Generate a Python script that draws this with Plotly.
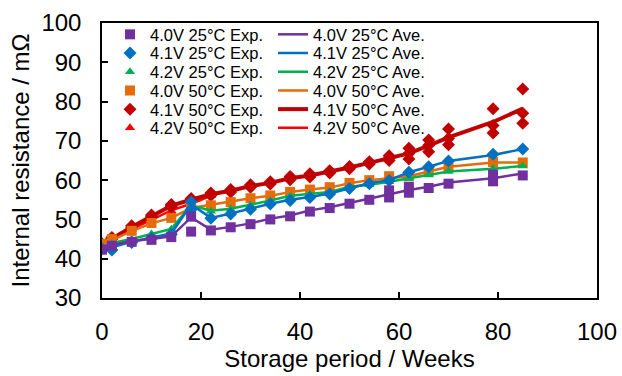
import plotly.graph_objects as go

weeks = [0, 2, 6, 10, 14, 18, 22, 26, 30, 34, 38, 42, 46, 50, 54, 58, 62, 66, 70, 79, 85]

# Average curves (mOhm)
ave_40_25 = [42.6, 43.5, 44.5, 45.0, 45.7, 50.5, 47.4, 48.1, 49.0, 50.2, 51.0, 52.3, 53.1, 54.2, 55.3, 56.4, 57.5, 58.3, 59.4, 60.5, 61.7]
ave_41_25 = [42.7, 42.9, 44.3, 45.4, 46.4, 53.8, 50.4, 51.5, 52.7, 54.0, 55.0, 55.7, 56.6, 57.9, 59.2, 60.0, 62.0, 63.4, 64.9, 66.4, 67.9]
ave_42_25 = [42.8, 44.0, 45.0, 46.3, 47.6, 53.6, 52.2, 52.7, 53.7, 54.8, 56.0, 56.5, 57.0, 58.3, 58.8, 59.6, 60.5, 61.3, 62.2, 62.9, 63.6]
ave_40_50 = [43.6, 44.8, 47.0, 49.0, 50.4, 52.9, 53.7, 54.5, 55.4, 56.0, 57.0, 57.6, 58.1, 59.2, 60.0, 60.5, 61.0, 62.2, 63.4, 64.5, 64.5]
ave_41_50 = [43.6, 45.2, 48.1, 50.8, 53.5, 55.0, 56.4, 57.3, 58.5, 59.3, 60.5, 61.2, 62.1, 63.2, 64.4, 65.6, 66.8, 68.8, 70.9, 74.8, 78.2]
weeks_42_50 = [0, 2, 6, 10, 14, 18, 22]
ave_42_50 = [43.5, 45.0, 47.5, 49.8, 52.3, 54.0, 56.0]

# Experimental points (several cells per storage time)
exp_40_25_w = weeks + [18, 58, 62, 79]
exp_40_25_v = [42.3, 43.3, 44.3, 44.8, 45.5, 46.9, 47.2, 48.0, 48.8, 50.0, 50.8, 52.0, 52.9, 54.0, 55.0, 55.6, 56.8, 58.0, 59.1, 59.7, 61.2] + [50.7, 57.4, 58.3, 61.4]
exp_41_25_w = weeks + [18]
exp_41_25_v = [42.5, 42.2, 44.1, 45.2, 46.2, 54.5, 50.3, 51.4, 52.6, 53.9, 54.8, 55.6, 56.5, 57.9, 59.1, 59.9, 62.0, 63.4, 64.9, 66.6, 67.9] + [52.5]
exp_42_25_w = weeks
exp_42_25_v = [42.6, 43.8, 44.9, 46.3, 47.5, 53.5, 52.1, 52.6, 53.6, 54.7, 55.9, 56.4, 57.0, 58.2, 58.8, 59.6, 60.4, 61.3, 62.2, 62.9, 63.6]
exp_40_50_w = weeks
exp_40_50_v = [43.8, 45.0, 47.1, 49.1, 50.4, 53.0, 53.6, 54.4, 55.4, 56.1, 57.0, 57.6, 58.2, 59.3, 60.0, 61.0, 61.0, 62.2, 63.4, 64.6, 64.5]
exp_41_50_a = [43.8, 45.4, 48.4, 51.1, 53.8, 55.3, 56.7, 57.6, 58.8, 59.6, 60.9, 61.6, 62.4, 63.5, 64.7, 66.2, 68.1, 70.2, 73.0, 78.2, 83.2]
exp_41_50_b = [43.6, 45.2, 48.1, 50.8, 53.5, 55.0, 56.4, 57.3, 58.5, 59.3, 60.5, 61.2, 62.1, 63.2, 64.4, 65.6, 66.8, 68.9, 70.6, 73.9, 77.0]
exp_41_50_c = [43.4, 45.0, 47.8, 50.5, 53.2, 54.7, 56.1, 57.0, 58.2, 59.0, 60.1, 60.8, 61.8, 62.9, 64.1, 65.0, 65.4, 67.2, 69.0, 72.0, 74.5]
exp_42_50_v = [43.4, 44.9, 47.4, 49.7, 52.2, 53.9, 56.0]

x_ticks = [0, 20, 40, 60, 80, 100]
y_ticks = [30, 40, 50, 60, 70, 80, 90, 100]

FONT = "Liberation Sans, Arial, sans-serif"

series = [
    # label, exp_w, exp_v, ave_w, ave_v, color, symbol, msize, lwidth, legend row
    ("4.2V 50°C", weeks_42_50, exp_42_50_v, weeks_42_50, ave_42_50, "#FF0000", "triangle-up", 9, 2.5, 6),
    ("4.1V 50°C", weeks * 3, exp_41_50_a + exp_41_50_b + exp_41_50_c, weeks, ave_41_50, "#C00000", "diamond", 10, 4, 5),
    ("4.0V 50°C", exp_40_50_w, exp_40_50_v, weeks, ave_40_50, "#E46C0A", "square", 10, 2.5, 4),
    ("4.2V 25°C", exp_42_25_w, exp_42_25_v, weeks, ave_42_25, "#00B050", "triangle-up", 9, 2.5, 3),
    ("4.1V 25°C", exp_41_25_w, exp_41_25_v, weeks, ave_41_25, "#0070C0", "diamond", 10, 2.5, 2),
    ("4.0V 25°C", exp_40_25_w, exp_40_25_v, weeks, ave_40_25, "#7030A0", "square", 10, 2.5, 1),
]

fig = go.Figure()
for label, ew, ev, aw, av, color, sym, ms, lw, row in series:
    lg = "legend" if row == 1 else f"legend{row}"
    fig.add_trace(go.Scatter(
        x=aw, y=av, mode="lines", name=f"{label} Ave.",
        line=dict(color=color, width=lw), legend=lg, legendrank=2,
    ))
    fig.add_trace(go.Scatter(
        x=ew, y=ev, mode="markers", name=f"{label} Exp.",
        marker=dict(color=color, symbol=sym, size=ms, line=dict(width=0)),
        legend=lg, legendrank=1,
    ))

# plot area in px
L, R, T, B = 102, 25, 23, 78
W, H = 622, 376
pw, ph = W - L - R, H - T - B
row_y = [34.6, 53.3, 72.0, 90.7, 109.4, 128.1]
legend_left_px = 110
legends = {}
for i, py in enumerate(row_y, start=1):
    key = "legend" if i == 1 else f"legend{i}"
    legends[key] = dict(
        x=(legend_left_px - L) / pw, y=(H - B - py) / ph,
        xanchor="left", yanchor="middle",
        orientation="h", entrywidth=118, entrywidthmode="pixels",
        bgcolor="rgba(0,0,0,0)", borderwidth=0,
        font=dict(family=FONT, size=16.5, color="#000"),
        traceorder="normal", itemsizing="trace",
        tracegroupgap=0,
    )

fig.update_layout(
    width=W, height=H,
    margin=dict(l=L, r=R, t=T, b=B, pad=0),
    paper_bgcolor="white", plot_bgcolor="white",
    font=dict(family=FONT, size=24, color="#000"),
    showlegend=True,
    **legends,
)
fig.update_xaxes(
    range=[0, 100], tickvals=x_ticks, ticktext=[str(v) for v in x_ticks],
    showgrid=False, zeroline=False, showline=True, linecolor="#000", linewidth=1.5,
    mirror=True, ticks="inside", ticklen=6, tickwidth=1.5, tickcolor="#000",
    tickfont=dict(family=FONT, size=24), ticklabelstandoff=11,
    title=dict(text="Storage period / Weeks", font=dict(family=FONT, size=24), standoff=7),
    automargin=False,
)
fig.update_yaxes(
    range=[30, 100], tickvals=y_ticks, ticktext=[str(v) for v in y_ticks],
    showgrid=False, zeroline=False, showline=True, linecolor="#000", linewidth=1.5,
    mirror=True, ticks="inside", ticklen=6, tickwidth=1.5, tickcolor="#000",
    tickfont=dict(family=FONT, size=24), ticklabelstandoff=14,
    title=dict(text="Internal resistance / mΩ", font=dict(family=FONT, size=24), standoff=5),
    automargin=False,
)

fig.write_html("out.html")
